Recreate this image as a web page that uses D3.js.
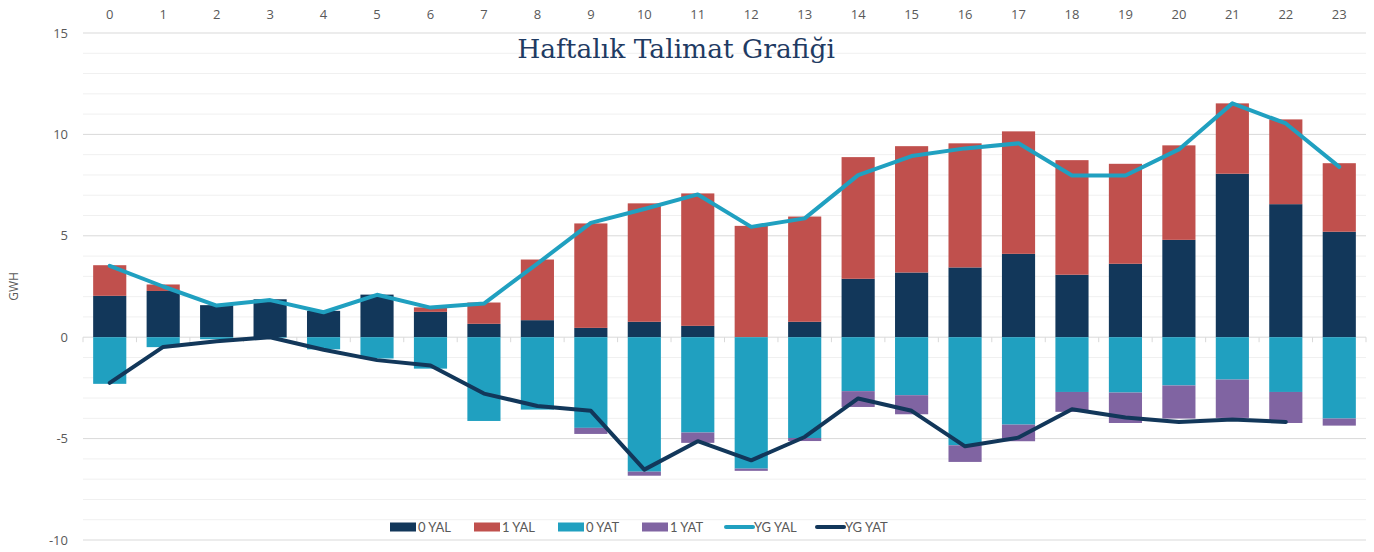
<!DOCTYPE html>
<html>
<head>
<meta charset="utf-8">
<script src="https://cdn.jsdelivr.net/npm/d3@7"></script>
<style>
  body { margin: 0; background: #fff; }
  svg text { font-family: "Open Sans", sans-serif; fill: #595959; }
</style>
</head>
<body>
<div id="chart"></div>
<script>
// hours on the top axis
var hours = d3.range(0, 24);

// stacked bars (GWH)
var yal0 = [2.04, 2.28, 1.58, 1.87, 1.30, 2.10, 1.25, 0.66, 0.84, 0.46, 0.76, 0.56, 0, 0.76, 2.88, 3.19, 3.44, 4.11, 3.08, 3.62, 4.80, 8.06, 6.56, 5.20];
var yal1 = [1.51, 0.32, 0, 0, 0, 0, 0.22, 1.05, 2.99, 5.15, 5.84, 6.53, 5.49, 5.19, 6.00, 6.23, 6.12, 6.04, 5.65, 4.93, 4.66, 3.47, 4.18, 3.38];
var yat0 = [-2.30, -0.49, -0.10, -0.03, -0.60, -1.05, -1.55, -4.13, -3.57, -4.47, -6.63, -4.70, -6.48, -4.97, -2.66, -2.86, -5.33, -4.31, -2.70, -2.73, -2.38, -2.09, -2.70, -4.01];
var yat1 = [0, 0, 0, 0, 0, 0, 0, 0, 0, -0.30, -0.20, -0.51, -0.11, -0.15, -0.78, -0.94, -0.82, -0.82, -0.98, -1.50, -1.63, -1.89, -1.53, -0.35];

// lines
var ygYal = [3.52, 2.50, 1.56, 1.83, 1.23, 2.09, 1.46, 1.66, 3.63, 5.64, 6.32, 7.04, 5.44, 5.86, 7.99, 8.93, 9.31, 9.56, 7.97, 7.97, 9.26, 11.53, 10.54, 8.40];
var ygYat = [-2.25, -0.48, -0.20, 0.0, -0.62, -1.13, -1.40, -2.78, -3.39, -3.63, -6.53, -5.13, -6.07, -4.92, -3.02, -3.63, -5.38, -4.95, -3.55, -3.96, -4.18, -4.06, -4.18, null];

var yTicks = [-10, -5, 0, 5, 10, 15];

var colors = {
  yal0: "#12375a",
  yal1: "#c0504d",
  yat0: "#20a0c0",
  yat1: "#8064a2",
  ygYal: "#20a0c0",
  ygYat: "#12375a"
};

var width = 1374, height = 552;
var margin = {left: 83, right: 8, top: 33, bottom: 12};

var svg = d3.select("#chart").append("svg")
  .attr("width", width)
  .attr("height", height);

var x = d3.scaleBand()
  .domain(hours)
  .range([margin.left, width - margin.right])
  .paddingInner(0.38)
  .paddingOuter(0.19);

var y = d3.scaleLinear()
  .domain([-10, 15])
  .range([height - margin.bottom, margin.top]);

// gridlines: minor every 1, major every 5
svg.append("g")
  .selectAll("line")
  .data(d3.range(-10, 16).filter(function(v) { return v % 5 !== 0; }))
  .join("line")
  .attr("x1", margin.left).attr("x2", width - margin.right)
  .attr("y1", function(d) { return y(d); }).attr("y2", function(d) { return y(d); })
  .attr("stroke", "#f0f0f0").attr("stroke-width", 1);

svg.append("g")
  .selectAll("line")
  .data(yTicks)
  .join("line")
  .attr("x1", margin.left).attr("x2", width - margin.right)
  .attr("y1", function(d) { return y(d); }).attr("y2", function(d) { return y(d); })
  .attr("stroke", "#d9d9d9").attr("stroke-width", 1);

// small tick marks on the zero line between categories
var step = x.step();
svg.append("g")
  .selectAll("line")
  .data(d3.range(0, 25))
  .join("line")
  .attr("x1", function(i) { return margin.left + i * step; })
  .attr("x2", function(i) { return margin.left + i * step; })
  .attr("y1", y(0)).attr("y2", y(0) + 5)
  .attr("stroke", "#d9d9d9");

// y labels
svg.append("g")
  .selectAll("text")
  .data(yTicks)
  .join("text")
  .attr("x", 68)
  .attr("y", function(d) { return y(d); })
  .attr("dy", "0.35em")
  .attr("text-anchor", "end")
  .style("font-size", "13px")
  .text(function(d) { return d; });

// top axis labels
var xAxis = svg.append("g")
  .attr("transform", "translate(0,19)")
  .call(d3.axisTop(x).tickSize(0).tickPadding(0));
xAxis.select(".domain").remove();
xAxis.selectAll("text")
  .style("font-family", "Open Sans, sans-serif")
  .style("font-size", "13px")
  .attr("fill", "#595959");

// GWH
svg.append("text")
  .attr("transform", "translate(18," + y(2.5) + ") rotate(-90)")
  .attr("text-anchor", "middle")
  .style("font-size", "12px")
  .text("GWH");

// stacked bars
var segs = [];
hours.forEach(function(h, i) {
  segs.push({h: h, y0: 0, y1: yal0[i], c: colors.yal0});
  segs.push({h: h, y0: yal0[i], y1: yal0[i] + yal1[i], c: colors.yal1});
  segs.push({h: h, y0: 0, y1: yat0[i], c: colors.yat0});
  segs.push({h: h, y0: yat0[i], y1: yat0[i] + yat1[i], c: colors.yat1});
});

svg.append("g")
  .selectAll("rect")
  .data(segs.filter(function(d) { return d.y1 !== d.y0; }))
  .join("rect")
  .attr("x", function(d) { return x(d.h); })
  .attr("width", x.bandwidth())
  .attr("y", function(d) { return y(Math.max(d.y0, d.y1)); })
  .attr("height", function(d) { return Math.abs(y(d.y0) - y(d.y1)); })
  .attr("fill", function(d) { return d.c; });

// lines
var line = d3.line()
  .defined(function(d) { return d.v !== null; })
  .x(function(d) { return x(d.h) + x.bandwidth() / 2; })
  .y(function(d) { return y(d.v); });

[[ygYal, colors.ygYal], [ygYat, colors.ygYat]].forEach(function(s) {
  svg.append("path")
    .datum(hours.map(function(h, i) { return {h: h, v: s[0][i]}; }))
    .attr("fill", "none")
    .attr("stroke", s[1])
    .attr("stroke-width", 4)
    .attr("stroke-linejoin", "round")
    .attr("stroke-linecap", "round")
    .attr("d", line);
});

// title
svg.append("text")
  .attr("x", 676)
  .attr("y", 58)
  .attr("text-anchor", "middle")
  .style("font-family", "DejaVu Serif, serif")
  .style("font-size", "26.5px")
  .style("fill", "#1f3b63")
  .text("Haftalık Talimat Grafiği");

// legend
var legendItems = [
  {name: "0 YAL", c: colors.yal0, type: "rect"},
  {name: "1 YAL", c: colors.yal1, type: "rect"},
  {name: "0 YAT", c: colors.yat0, type: "rect"},
  {name: "1 YAT", c: colors.yat1, type: "rect"},
  {name: "YG YAL", c: colors.ygYal, type: "line"},
  {name: "YG YAT", c: colors.ygYat, type: "line"}
];
var legend = svg.append("g").attr("transform", "translate(390,527)");
var lg = legend.selectAll("g")
  .data(legendItems)
  .join("g")
  .attr("transform", function(d, i) { return "translate(" + [0, 84, 168, 252, 335, 426][i] + ",0)"; });
lg.filter(function(d) { return d.type === "rect"; })
  .append("rect")
  .attr("x", 0).attr("y", -4.5).attr("width", 26).attr("height", 9)
  .attr("fill", function(d) { return d.c; });
lg.filter(function(d) { return d.type === "line"; })
  .append("line")
  .attr("x1", 1).attr("x2", 28).attr("y1", 0).attr("y2", 0)
  .attr("stroke", function(d) { return d.c; })
  .attr("stroke-width", 4)
  .attr("stroke-linecap", "round");
lg.append("text")
  .attr("x", function(d) { return d.type === "rect" ? 28 : 29; })
  .attr("dy", "0.35em")
  .style("font-family", "Lato, sans-serif")
  .style("font-size", "13px")
  .text(function(d) { return d.name; });
</script>
</body>
</html>
